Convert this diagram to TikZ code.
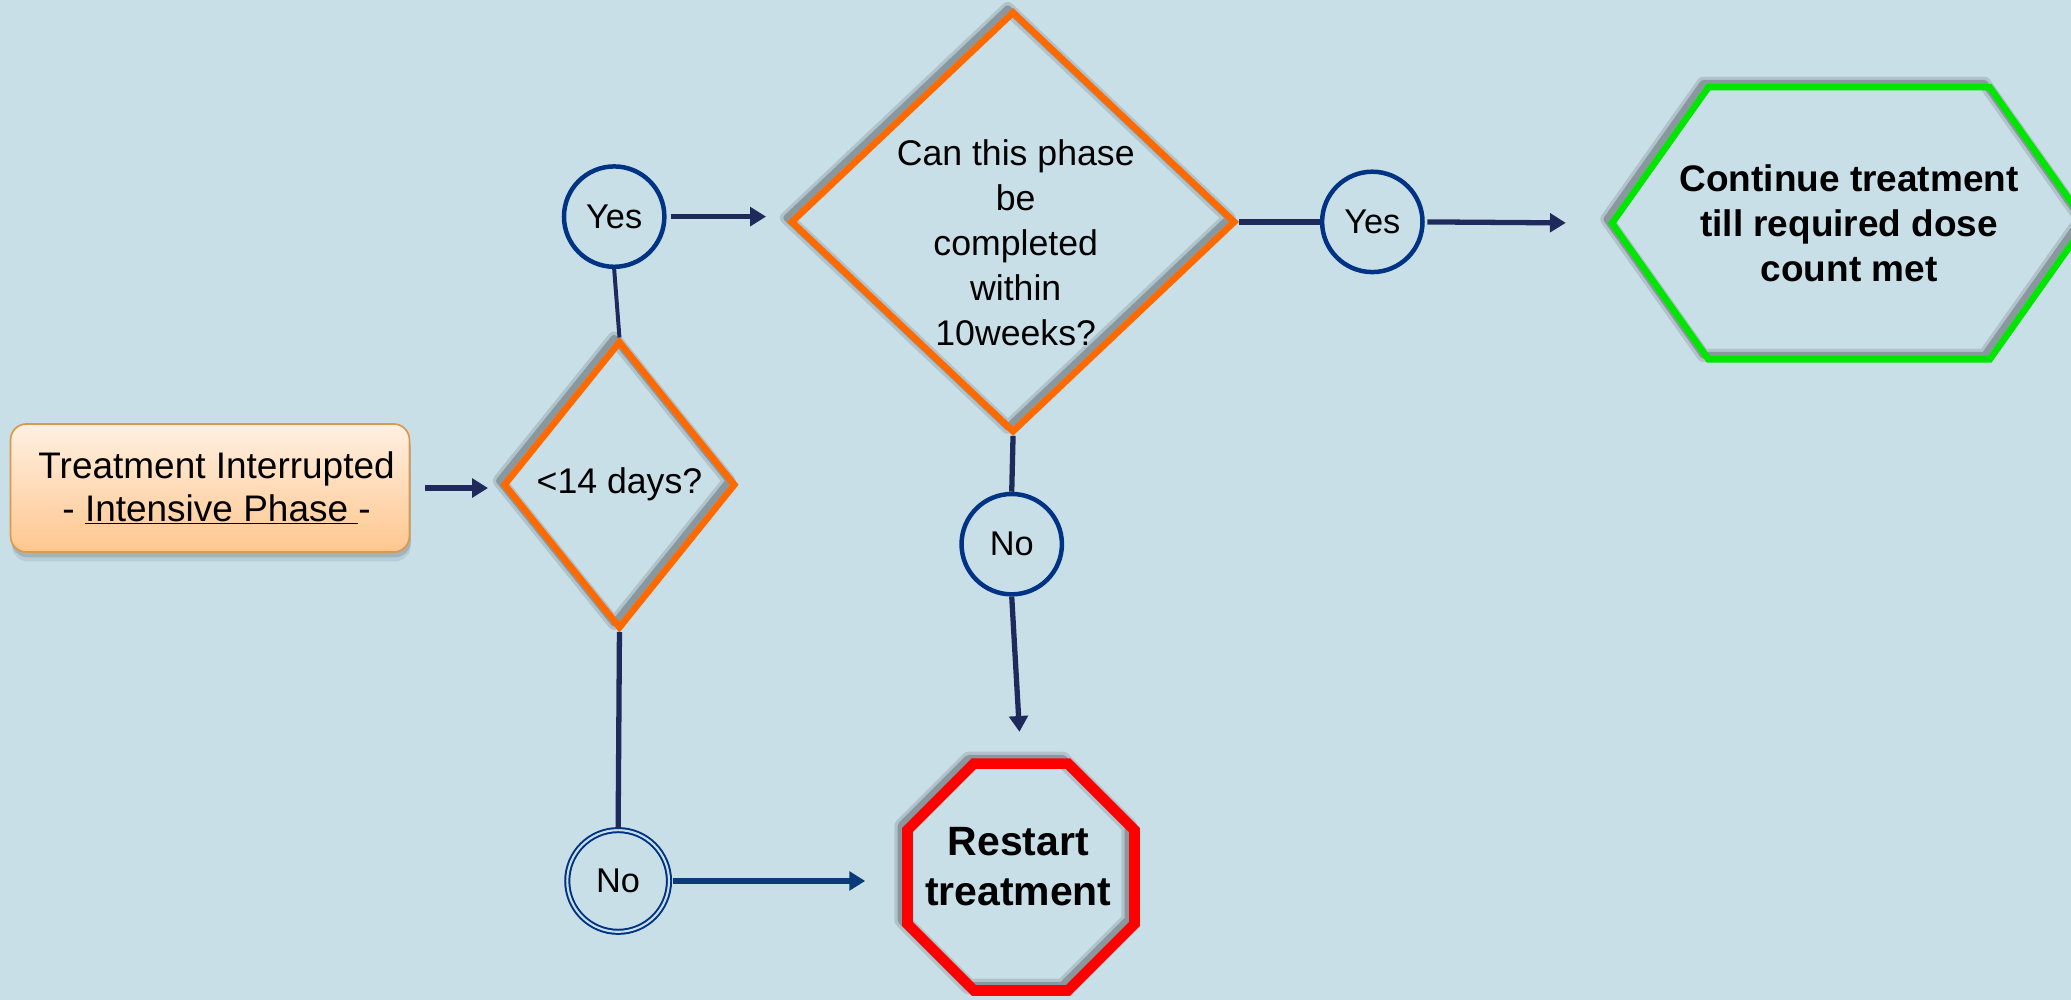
\documentclass[tikz,border=0pt]{standalone}
\usepackage{fontspec}
\setmainfont{Liberation Sans}
\usetikzlibrary{shapes.geometric,arrows.meta,calc}
\definecolor{bg}{HTML}{C9DFE8}
\definecolor{navy}{HTML}{1F2A5C}
\definecolor{cblue}{HTML}{003383}
\definecolor{arrblue}{HTML}{0A3A78}
\definecolor{dorange}{HTML}{FF6A00}
\definecolor{hgreen}{HTML}{00E600}
\definecolor{sred}{HTML}{FF0000}
\definecolor{boxtop}{HTML}{FFF0E2}
\definecolor{boxbot}{HTML}{FFC68E}
\definecolor{boxedge}{HTML}{D99A4E}
\newcommand{\fsz}[2]{\fontsize{#1bp}{#2bp}\selectfont}
\tikzset{
  shadowthin/.style={
    preaction={draw=black, opacity=.12, line width=10bp, line join=round, transform canvas={shift={(-4bp,3bp)}}},
    preaction={draw=black, opacity=.22, line width=5bp, line join=round, transform canvas={shift={(-4bp,3bp)}}}},
  shadowthick/.style={
    preaction={draw=black, opacity=.12, line width=12bp, line join=round, transform canvas={shift={(-4bp,3bp)}}},
    preaction={draw=black, opacity=.22, line width=7bp, line join=round, transform canvas={shift={(-4bp,3bp)}}}},
  startbox/.style={rectangle, rounded corners=12bp, draw=boxedge, line width=1.3bp,
    top color=boxtop, bottom color=boxbot, minimum width=302bp, minimum height=97bp,
    inner sep=0, align=center, font=\fsz{28}{32},
    preaction={fill=black, opacity=.12, transform canvas={shift={(1bp,-4bp)}}},
    preaction={fill=black, opacity=.08, transform canvas={shift={(1bp,-7bp)}}}},
  decision/.style={diamond, draw=dorange, line width=5bp, inner sep=0, font=\fsz{27}{33}, shadowthin},
  yesno/.style={circle, draw=cblue, line width=3.4bp, minimum size=76bp, inner sep=0, font=\fsz{26}{31}},
  yesnodbl/.style={circle, draw=cblue, double=bg, double distance=1.6bp, line width=1.5bp, minimum size=77bp, inner sep=0, font=\fsz{26}{31}},
  hexbox/.style={rectangle, minimum width=359bp, minimum height=206bp, inner sep=0, outer sep=0, align=center, font=\bfseries\fsz{28}{34}},
  hexline/.style={draw=hgreen, line width=5bp, shadowthin},
  stopsign/.style={regular polygon, regular polygon sides=8, minimum size=186bp, inner sep=0, draw=sred, line width=8bp, shadowthick},
  conn/.style={draw=navy, line width=4bp},
  arr/.style={conn, -{Triangle[length=12bp,width=14bp]}}
}
\begin{document}
\begin{tikzpicture}[x=1bp,y=-1bp]
\useasboundingbox (0,0) rectangle (1568,757);
\fill[bg] (0,0) rectangle (1568,757);
\clip (0,0) rectangle (1568,757);

% nodes
\node[startbox] (start) at (159,369.5) {\hspace*{10bp}Treatment Interrupted\\\hspace*{10bp}- \underline{Intensive Phase }-};
\node[decision, minimum width=176bp, minimum height=218bp] (d1) at (469,367) {<14 days?};
\node[decision, minimum width=337bp, minimum height=319bp] (d2) at (767,168) {};
\node[font=\fsz{27}{34}, align=center, inner sep=0] (d2t) at (769,184) {Can this phase\\be\\completed\\within\\10weeks?};
\node[yesno] (yes1) at (465,164) {Yes};
\node[yesno] (yes2) at (1039,168) {Yes};
\node[yesno] (no1) at (766,412) {No};
\node[yesnodbl] (no2) at (468,667) {No};
\node[hexbox] (hex) at (1400,169) {Continue treatment\\till required dose\\count met};
\draw[hexline] (hex.west) -- ([xshift=73bp]hex.north west) -- ([xshift=-73bp]hex.north east)
  -- (hex.east) -- ([xshift=-73bp]hex.south east) -- ([xshift=73bp]hex.south west) -- cycle;
\node[stopsign] (oct) at (773,664) {};
\node[font=\bfseries\fsz{31}{38}, align=center, inner sep=0] (octt) at (771,656) {Restart\\treatment};

% connectors
\draw[arr, shorten <=11bp, shorten >=9bp] (start.east) -- (start.east -| d1.west);
\draw[conn, line width=3bp] (d1.north) -- (yes1.south);
\draw[arr, shorten <=3bp, shorten >=16bp] (yes1.east) -- (yes1.east -| d2.west);
\draw[conn] (d2.east) -- (yes2.west);
\draw[arr, shorten <=2bp, shorten >=35bp] (yes2.east) -- (hex.west);
\draw[conn] (d2.south) -- (no1.north);
\draw[arr, shorten >=20bp] (no1.south) -- (oct.north);
\draw[conn] (d1.south) -- (no2.north);
\draw[arr, draw=arrblue, shorten <=2bp, shorten >=28bp] (no2.east) -- (no2.east -| oct.west);
\end{tikzpicture}
\end{document}
